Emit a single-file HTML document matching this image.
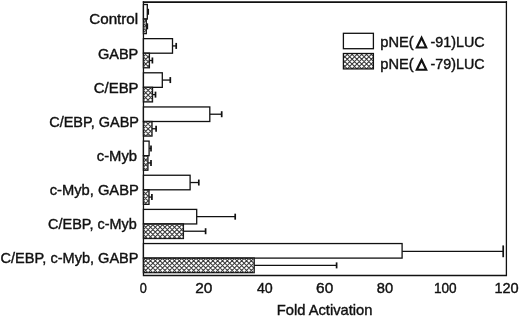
<!DOCTYPE html>
<html><head><meta charset="utf-8"><style>
html,body{margin:0;padding:0;background:#fff;}
svg{display:block;filter:blur(0.2px);}
text{font-family:"Liberation Sans",sans-serif;font-size:14.5px;fill:#111;stroke:#111;stroke-width:0.4px;}
.o{fill:#fff;stroke:#111;stroke-width:1.3;}
.h{fill:none;stroke:#111;stroke-width:1.3;}
.e{fill:none;stroke:#111;stroke-width:1.3;}
.c{fill:none;stroke:#111;stroke-width:1.7;}
</style></head><body>
<svg width="520" height="317" viewBox="0 0 520 317">
<defs>
<clipPath id="hc"><rect x="143.45" y="19.05" width="2.85" height="14.55"/><rect x="143.45" y="53.20" width="5.95" height="14.55"/><rect x="143.45" y="87.35" width="9.05" height="14.55"/><rect x="143.45" y="121.50" width="8.55" height="14.55"/><rect x="143.45" y="155.65" width="4.45" height="14.55"/><rect x="143.45" y="189.80" width="5.55" height="14.55"/><rect x="143.45" y="223.95" width="39.95" height="14.55"/><rect x="143.45" y="258.10" width="110.75" height="14.55"/><rect x="343.4" y="53.5" width="30" height="15.4"/></clipPath>
</defs>
<path d="M143.45 1.2V276.15M506.4 1.2V276.15M142.80 275.5H507.05" fill="none" stroke="#111" stroke-width="1.3"/>
<path d="M142.80 2.05H507.05" fill="none" stroke="#111" stroke-width="1.7"/>
<path d="M147.30 11.78H148.40" class="e"/><path d="M148.20 8.78V14.78" class="c"/>
<path d="M146.30 26.33H147.50" class="e"/><path d="M147.30 23.33V29.33" class="c"/>
<rect x="143.45" y="4.50" width="3.85" height="14.55" class="o"/>
<rect x="143.45" y="19.05" width="2.85" height="14.55" class="h"/>
<path d="M172.50 45.92H176.40" class="e"/><path d="M176.20 42.92V48.92" class="c"/>
<path d="M149.40 60.48H152.60" class="e"/><path d="M152.40 57.48V63.48" class="c"/>
<rect x="143.45" y="38.65" width="29.05" height="14.55" class="o"/>
<rect x="143.45" y="53.20" width="5.95" height="14.55" class="h"/>
<path d="M162.30 80.07H170.50" class="e"/><path d="M170.30 77.07V83.07" class="c"/>
<path d="M152.50 94.62H155.70" class="e"/><path d="M155.50 91.62V97.62" class="c"/>
<rect x="143.45" y="72.80" width="18.85" height="14.55" class="o"/>
<rect x="143.45" y="87.35" width="9.05" height="14.55" class="h"/>
<path d="M209.80 114.22H221.90" class="e"/><path d="M221.70 111.22V117.22" class="c"/>
<path d="M152.00 128.77H156.30" class="e"/><path d="M156.10 125.77V131.77" class="c"/>
<rect x="143.45" y="106.95" width="66.35" height="14.55" class="o"/>
<rect x="143.45" y="121.50" width="8.55" height="14.55" class="h"/>
<path d="M149.10 148.38H151.20" class="e"/><path d="M151.00 145.38V151.38" class="c"/>
<path d="M147.90 162.93H151.20" class="e"/><path d="M151.00 159.93V165.93" class="c"/>
<rect x="143.45" y="141.10" width="5.65" height="14.55" class="o"/>
<rect x="143.45" y="155.65" width="4.45" height="14.55" class="h"/>
<path d="M190.10 182.53H199.00" class="e"/><path d="M198.80 179.53V185.53" class="c"/>
<path d="M149.00 197.08H152.10" class="e"/><path d="M151.90 194.08V200.08" class="c"/>
<rect x="143.45" y="175.25" width="46.65" height="14.55" class="o"/>
<rect x="143.45" y="189.80" width="5.55" height="14.55" class="h"/>
<path d="M196.70 216.67H235.40" class="e"/><path d="M235.20 213.67V219.67" class="c"/>
<path d="M183.40 231.22H205.80" class="e"/><path d="M205.60 228.22V234.22" class="c"/>
<rect x="143.45" y="209.40" width="53.25" height="14.55" class="o"/>
<rect x="143.45" y="223.95" width="39.95" height="14.55" class="h"/>
<path d="M402.10 251.32H503.40" class="e"/><path d="M503.20 245.42V257.22" class="c"/>
<path d="M254.20 265.38H336.80" class="e"/><path d="M336.60 262.38V268.38" class="c"/>
<rect x="143.45" y="243.55" width="258.65" height="14.55" class="o"/>
<rect x="143.45" y="258.10" width="110.75" height="14.55" class="h"/>
<text x="89.25" y="24.00" textLength="48.93" lengthAdjust="spacingAndGlyphs">Control</text>
<text x="97.90" y="59.00" textLength="40.40" lengthAdjust="spacingAndGlyphs">GABP</text>
<text x="93.77" y="93.00" textLength="44.76" lengthAdjust="spacingAndGlyphs">C/EBP</text>
<text x="49.20" y="127.00" textLength="89.80" lengthAdjust="spacingAndGlyphs">C/EBP, GABP</text>
<text x="96.80" y="161.00" textLength="40.29" lengthAdjust="spacingAndGlyphs">c-Myb</text>
<text x="49.70" y="195.00" textLength="89.14" lengthAdjust="spacingAndGlyphs">c-Myb, GABP</text>
<text x="48.11" y="229.00" textLength="88.68" lengthAdjust="spacingAndGlyphs">C/EBP, c-Myb</text>
<text x="0.50" y="263.00" textLength="138.04" lengthAdjust="spacingAndGlyphs">C/EBP, c-Myb, GABP</text>
<text x="139.80" y="293.00" textLength="7.07" lengthAdjust="spacingAndGlyphs">0</text>
<text x="195.23" y="293.00" textLength="17.22" lengthAdjust="spacingAndGlyphs">20</text>
<text x="256.90" y="293.00" textLength="15.84" lengthAdjust="spacingAndGlyphs">40</text>
<text x="316.14" y="293.00" textLength="17.11" lengthAdjust="spacingAndGlyphs">60</text>
<text x="376.79" y="293.00" textLength="16.36" lengthAdjust="spacingAndGlyphs">80</text>
<text x="433.96" y="293.00" textLength="22.73" lengthAdjust="spacingAndGlyphs">100</text>
<text x="494.40" y="293.00" textLength="24.31" lengthAdjust="spacingAndGlyphs">120</text>
<text x="276.78" y="315.00" textLength="95.73" lengthAdjust="spacingAndGlyphs">Fold Activation</text>
<text x="380.39" y="47.00" textLength="33.36" lengthAdjust="spacingAndGlyphs">pNE(</text>
<text x="430.50" y="47.00" textLength="54.09" lengthAdjust="spacingAndGlyphs">-91)LUC</text>
<text x="380.39" y="69.00" textLength="33.36" lengthAdjust="spacingAndGlyphs">pNE(</text>
<text x="430.60" y="69.00" textLength="53.99" lengthAdjust="spacingAndGlyphs">-79)LUC</text>
<rect x="343.4" y="33.3" width="30" height="15.4" class="o"/>
<path d="M-148.70 0L131.30 280M-143.90 0L136.10 280M-139.10 0L140.90 280M-134.30 0L145.70 280M-129.50 0L150.50 280M-124.70 0L155.30 280M-119.90 0L160.10 280M-115.10 0L164.90 280M-110.30 0L169.70 280M-105.50 0L174.50 280M-100.70 0L179.30 280M-95.90 0L184.10 280M-91.10 0L188.90 280M-86.30 0L193.70 280M-81.50 0L198.50 280M-76.70 0L203.30 280M-71.90 0L208.10 280M-67.10 0L212.90 280M-62.30 0L217.70 280M-57.50 0L222.50 280M-52.70 0L227.30 280M-47.90 0L232.10 280M-43.10 0L236.90 280M-38.30 0L241.70 280M-33.50 0L246.50 280M-28.70 0L251.30 280M-23.90 0L256.10 280M-19.10 0L260.90 280M-14.30 0L265.70 280M-9.50 0L270.50 280M-4.70 0L275.30 280M0.10 0L280.10 280M4.90 0L284.90 280M9.70 0L289.70 280M14.50 0L294.50 280M19.30 0L299.30 280M24.10 0L304.10 280M28.90 0L308.90 280M33.70 0L313.70 280M38.50 0L318.50 280M43.30 0L323.30 280M48.10 0L328.10 280M52.90 0L332.90 280M57.70 0L337.70 280M62.50 0L342.50 280M67.30 0L347.30 280M72.10 0L352.10 280M76.90 0L356.90 280M81.70 0L361.70 280M86.50 0L366.50 280M91.30 0L371.30 280M96.10 0L376.10 280M100.90 0L380.90 280M105.70 0L385.70 280M110.50 0L390.50 280M115.30 0L395.30 280M120.10 0L400.10 280M124.90 0L404.90 280M129.70 0L409.70 280M134.50 0L414.50 280M139.30 0L419.30 280M144.10 0L424.10 280M148.90 0L428.90 280M153.70 0L433.70 280M158.50 0L438.50 280M163.30 0L443.30 280M168.10 0L448.10 280M172.90 0L452.90 280M177.70 0L457.70 280M182.50 0L462.50 280M187.30 0L467.30 280M192.10 0L472.10 280M196.90 0L476.90 280M201.70 0L481.70 280M206.50 0L486.50 280M211.30 0L491.30 280M216.10 0L496.10 280M220.90 0L500.90 280M225.70 0L505.70 280M230.50 0L510.50 280M235.30 0L515.30 280M240.10 0L520.10 280M244.90 0L524.90 280M249.70 0L529.70 280M254.50 0L534.50 280M259.30 0L539.30 280M264.10 0L544.10 280M268.90 0L548.90 280M273.70 0L553.70 280M278.50 0L558.50 280M283.30 0L563.30 280M288.10 0L568.10 280M292.90 0L572.90 280M297.70 0L577.70 280M302.50 0L582.50 280M307.30 0L587.30 280M312.10 0L592.10 280M316.90 0L596.90 280M321.70 0L601.70 280M326.50 0L606.50 280M331.30 0L611.30 280M336.10 0L616.10 280M340.90 0L620.90 280M345.70 0L625.70 280M350.50 0L630.50 280M355.30 0L635.30 280M360.10 0L640.10 280M364.90 0L644.90 280M369.70 0L649.70 280M374.50 0L654.50 280M379.30 0L659.30 280M384.10 0L664.10 280M388.90 0L668.90 280M132.90 0L-147.10 280M137.70 0L-142.30 280M142.50 0L-137.50 280M147.30 0L-132.70 280M152.10 0L-127.90 280M156.90 0L-123.10 280M161.70 0L-118.30 280M166.50 0L-113.50 280M171.30 0L-108.70 280M176.10 0L-103.90 280M180.90 0L-99.10 280M185.70 0L-94.30 280M190.50 0L-89.50 280M195.30 0L-84.70 280M200.10 0L-79.90 280M204.90 0L-75.10 280M209.70 0L-70.30 280M214.50 0L-65.50 280M219.30 0L-60.70 280M224.10 0L-55.90 280M228.90 0L-51.10 280M233.70 0L-46.30 280M238.50 0L-41.50 280M243.30 0L-36.70 280M248.10 0L-31.90 280M252.90 0L-27.10 280M257.70 0L-22.30 280M262.50 0L-17.50 280M267.30 0L-12.70 280M272.10 0L-7.90 280M276.90 0L-3.10 280M281.70 0L1.70 280M286.50 0L6.50 280M291.30 0L11.30 280M296.10 0L16.10 280M300.90 0L20.90 280M305.70 0L25.70 280M310.50 0L30.50 280M315.30 0L35.30 280M320.10 0L40.10 280M324.90 0L44.90 280M329.70 0L49.70 280M334.50 0L54.50 280M339.30 0L59.30 280M344.10 0L64.10 280M348.90 0L68.90 280M353.70 0L73.70 280M358.50 0L78.50 280M363.30 0L83.30 280M368.10 0L88.10 280M372.90 0L92.90 280M377.70 0L97.70 280M382.50 0L102.50 280M387.30 0L107.30 280M392.10 0L112.10 280M396.90 0L116.90 280M401.70 0L121.70 280M406.50 0L126.50 280M411.30 0L131.30 280M416.10 0L136.10 280M420.90 0L140.90 280M425.70 0L145.70 280M430.50 0L150.50 280M435.30 0L155.30 280M440.10 0L160.10 280M444.90 0L164.90 280M449.70 0L169.70 280M454.50 0L174.50 280M459.30 0L179.30 280M464.10 0L184.10 280M468.90 0L188.90 280M473.70 0L193.70 280M478.50 0L198.50 280M483.30 0L203.30 280M488.10 0L208.10 280M492.90 0L212.90 280M497.70 0L217.70 280M502.50 0L222.50 280M507.30 0L227.30 280M512.10 0L232.10 280M516.90 0L236.90 280M521.70 0L241.70 280M526.50 0L246.50 280M531.30 0L251.30 280M536.10 0L256.10 280M540.90 0L260.90 280M545.70 0L265.70 280M550.50 0L270.50 280M555.30 0L275.30 280M560.10 0L280.10 280M564.90 0L284.90 280M569.70 0L289.70 280M574.50 0L294.50 280M579.30 0L299.30 280M584.10 0L304.10 280M588.90 0L308.90 280M593.70 0L313.70 280M598.50 0L318.50 280M603.30 0L323.30 280M608.10 0L328.10 280M612.90 0L332.90 280M617.70 0L337.70 280M622.50 0L342.50 280M627.30 0L347.30 280M632.10 0L352.10 280M636.90 0L356.90 280M641.70 0L361.70 280M646.50 0L366.50 280M651.30 0L371.30 280M656.10 0L376.10 280M660.90 0L380.90 280M665.70 0L385.70 280" stroke="#3a3a3a" stroke-width="1.05" fill="none" clip-path="url(#hc)"/>
<rect x="343.4" y="53.5" width="30" height="15.4" class="h"/>
<path d="M415.1 48.6L421.6 35.3L427.9 48.6ZM418.5 46.5L421.6 40.3L424.6 46.5Z" fill="#111" fill-rule="evenodd"/>
<path d="M415.1 70.8L421.6 57.5L427.9 70.8ZM418.5 68.7L421.6 62.5L424.6 68.7Z" fill="#111" fill-rule="evenodd"/>
</svg>
</body></html>
